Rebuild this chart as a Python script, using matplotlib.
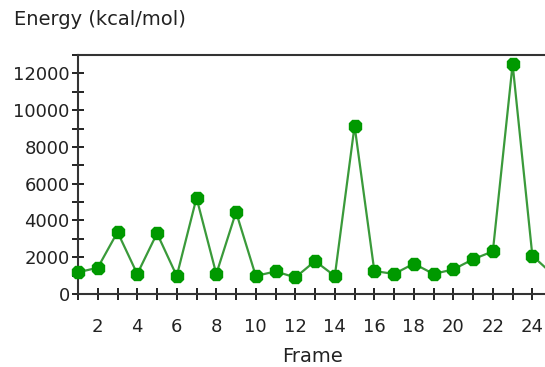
# Energy per frame plot
import matplotlib
matplotlib.use('Agg')
import matplotlib.pyplot as plt
from matplotlib.ticker import MultipleLocator

# data
frames = list(range(1, 26))
energy = [1180, 1430, 3370, 1090, 3300, 980, 5230, 1090, 4460, 980,
          1230, 900, 1790, 980, 9150, 1250, 1090, 1650, 1090, 1340,
          1890, 2320, 12500, 2080, 1100]
xtick_vals = [2, 4, 6, 8, 10, 12, 14, 16, 18, 20, 22, 24]
ytick_vals = [0, 2000, 4000, 6000, 8000, 10000, 12000]

plt.rcParams['font.family'] = 'DejaVu Sans'
text_color = '#222222'

fig = plt.figure(figsize=(5.45, 3.67), dpi=100)
ax = fig.add_axes([78 / 545, 73 / 367, 484 / 545, 239 / 367])

ax.plot(frames, energy, color='#3a9a3a', lw=1.6, marker='8',
        markersize=10, markerfacecolor='#009900', markeredgecolor='#009900',
        clip_on=False, zorder=3)

ax.set_xlim(1, 25.5)
ax.set_ylim(0, 13000)

ax.set_xticks(xtick_vals)
ax.xaxis.set_minor_locator(MultipleLocator(1))
ax.set_yticks(ytick_vals)
ax.yaxis.set_minor_locator(MultipleLocator(1000))

for spine in ax.spines.values():
    spine.set_color('#333333')
    spine.set_linewidth(1.5)

ax.tick_params(axis='both', which='both', direction='inout', length=8,
               width=1.4, color='#222222', labelcolor=text_color,
               labelsize=13)
ax.tick_params(axis='x', which='major', pad=13)
ax.tick_params(axis='y', which='major', pad=2)

ax.set_xlabel('Frame', fontsize=14, color=text_color)
ax.xaxis.set_label_coords((312 - 78) / 484, -63 / 239)
ax.xaxis.label.set_va('center')

fig.text(14 / 545, 1 - 10 / 367, 'Energy (kcal/mol)', fontsize=14,
         color=text_color, ha='left', va='top')

fig.savefig('out.png', dpi=100)
